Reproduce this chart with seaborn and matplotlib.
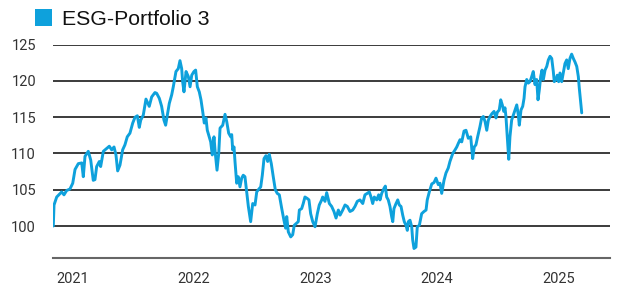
import numpy as np
import pandas as pd
import matplotlib
matplotlib.use("Agg")
import matplotlib.pyplot as plt
from matplotlib.patches import Rectangle
import seaborn as sns

# ─────────────────────────────────────────────
# DATA  (decimal year, index level)
# ─────────────────────────────────────────────
SERIES_NAME = "ESG-Portfolio 3"

years = [
    2020.842, 2020.848, 2020.870, 2020.911, 2020.930, 2020.952, 2020.979, 2021.002,
    2021.021, 2021.048, 2021.076, 2021.089, 2021.103, 2021.130, 2021.150, 2021.171,
    2021.185, 2021.199, 2021.221, 2021.232, 2021.254, 2021.282, 2021.303, 2021.323,
    2021.342, 2021.358, 2021.372, 2021.391, 2021.413, 2021.432, 2021.451, 2021.473,
    2021.496, 2021.515, 2021.534, 2021.550, 2021.562, 2021.583, 2021.605, 2021.632,
    2021.652, 2021.679, 2021.693, 2021.715, 2021.734, 2021.753, 2021.767, 2021.781,
    2021.797, 2021.817, 2021.830, 2021.852, 2021.871, 2021.885, 2021.899, 2021.907,
    2021.918, 2021.935, 2021.954, 2021.968, 2021.982, 2022.000, 2022.014, 2022.028,
    2022.044, 2022.058, 2022.072, 2022.085, 2022.099, 2022.110, 2022.126, 2022.138,
    2022.151, 2022.165, 2022.176, 2022.190, 2022.204, 2022.215, 2022.237, 2022.256,
    2022.270, 2022.286, 2022.303, 2022.311, 2022.319, 2022.330, 2022.338, 2022.352,
    2022.365, 2022.379, 2022.393, 2022.406, 2022.420, 2022.434, 2022.448, 2022.467,
    2022.484, 2022.503, 2022.517, 2022.530, 2022.550, 2022.563, 2022.577, 2022.593,
    2022.607, 2022.620, 2022.637, 2022.653, 2022.670, 2022.686, 2022.703, 2022.723,
    2022.741, 2022.755, 2022.764, 2022.777, 2022.797, 2022.813, 2022.826, 2022.846,
    2022.859, 2022.868, 2022.887, 2022.900, 2022.914, 2022.933, 2022.947, 2022.961,
    2022.978, 2022.997, 2023.016, 2023.032, 2023.052, 2023.060, 2023.079, 2023.093,
    2023.115, 2023.134, 2023.153, 2023.170, 2023.189, 2023.203, 2023.225, 2023.244,
    2023.263, 2023.285, 2023.307, 2023.326, 2023.345, 2023.367, 2023.390, 2023.408,
    2023.427, 2023.444, 2023.458, 2023.472, 2023.485, 2023.505, 2023.521, 2023.532,
    2023.546, 2023.565, 2023.576, 2023.587, 2023.600, 2023.614, 2023.628, 2023.637,
    2023.647, 2023.664, 2023.678, 2023.691, 2023.705, 2023.719, 2023.732, 2023.746,
    2023.757, 2023.765, 2023.779, 2023.793, 2023.801, 2023.812, 2023.828, 2023.839,
    2023.856, 2023.875, 2023.894, 2023.911, 2023.921, 2023.938, 2023.958, 2023.977,
    2023.993, 2024.012, 2024.026, 2024.040, 2024.059, 2024.075, 2024.094, 2024.108,
    2024.131, 2024.150, 2024.164, 2024.177, 2024.191, 2024.205, 2024.224, 2024.240,
    2024.259, 2024.279, 2024.295, 2024.308, 2024.322, 2024.336, 2024.355, 2024.369,
    2024.383, 2024.397, 2024.411, 2024.424, 2024.438, 2024.454, 2024.471, 2024.487,
    2024.498, 2024.514, 2024.526, 2024.539, 2024.551, 2024.561, 2024.569, 2024.580,
    2024.592, 2024.602, 2024.616, 2024.630, 2024.644, 2024.658, 2024.671, 2024.679,
    2024.693, 2024.707, 2024.718, 2024.726, 2024.740, 2024.753, 2024.767, 2024.781,
    2024.794, 2024.808, 2024.822, 2024.833, 2024.844, 2024.855, 2024.866, 2024.877,
    2024.891, 2024.905, 2024.918, 2024.932, 2024.946, 2024.959, 2024.967, 2024.981,
    2024.992, 2025.003, 2025.014, 2025.028, 2025.041, 2025.055, 2025.069, 2025.082,
    2025.096, 2025.110, 2025.124, 2025.138, 2025.152, 2025.165, 2025.173, 2025.185,
    2025.193,
]

values = [
    100.0, 102.9, 104.0, 104.7, 104.3, 104.9, 105.1, 105.9,
    107.8, 108.6, 108.7, 106.8, 109.6, 110.3, 109.1, 106.3,
    106.4, 108.2, 108.9, 108.2, 110.3, 110.7, 111.0, 110.5,
    110.9, 109.8, 107.6, 108.4, 110.5, 111.2, 112.3, 112.8,
    114.2, 115.0, 115.2, 113.6, 114.6, 115.3, 117.5, 116.5,
    117.8, 118.4, 118.3, 117.6, 116.5, 114.6, 113.9, 115.3,
    116.9, 118.1, 119.2, 121.3, 121.7, 122.8, 121.7, 119.9,
    118.5, 121.3, 120.6, 119.2, 120.8, 121.3, 121.5, 119.2,
    118.5, 117.4, 115.8, 114.2, 114.9, 113.2, 112.3, 111.6,
    109.8, 112.3, 110.0, 107.7, 110.0, 113.5, 113.9, 115.4,
    114.4, 112.8, 112.3, 112.6, 110.5, 110.9, 108.9, 105.9,
    106.8, 105.4, 106.6, 107.0, 106.8, 104.7, 102.7, 100.6,
    103.1, 102.9, 104.7, 105.0, 105.4, 107.0, 109.3, 109.7,
    108.9, 109.9, 108.6, 106.8, 105.0, 104.5, 104.3, 102.4,
    100.8, 99.7, 101.3, 99.2, 98.5, 98.8, 100.1, 100.4,
    100.6, 102.2, 102.4, 103.1, 104.0, 103.8, 103.6, 101.7,
    100.6, 99.9, 101.7, 102.9, 103.6, 104.0, 103.4, 104.6,
    103.1, 102.7, 102.0, 101.1, 102.2, 101.5, 102.2, 102.9,
    102.7, 102.0, 102.2, 102.7, 103.4, 103.6, 103.1, 104.3,
    104.5, 104.7, 104.0, 103.1, 104.0, 103.6, 104.3, 103.6,
    104.5, 105.2, 105.5, 104.0, 103.6, 102.7, 101.3, 100.6,
    102.4, 103.1, 103.6, 102.9, 102.7, 101.5, 100.6, 100.1,
    99.4, 100.6, 100.8, 99.9, 98.1, 96.9, 97.1, 99.9,
    100.1, 101.7, 102.0, 102.2, 103.6, 104.7, 105.8, 106.0,
    106.6, 105.7, 105.9, 104.5, 106.3, 107.3, 108.0, 108.9,
    110.0, 110.5, 110.9, 111.4, 111.9, 111.6, 113.1, 113.2,
    112.1, 112.3, 109.3, 110.9, 111.2, 112.3, 113.7, 114.9,
    115.1, 114.4, 113.2, 114.6, 115.1, 115.5, 115.8, 114.9,
    115.7, 116.0, 117.4, 116.7, 115.8, 116.3, 115.1, 112.3,
    109.2, 112.3, 114.6, 115.3, 116.0, 116.7, 115.3, 113.9,
    116.0, 116.5, 117.6, 119.2, 120.2, 119.7, 119.9, 120.6,
    121.3, 119.5, 120.2, 117.4, 118.8, 120.6, 121.5, 120.2,
    121.5, 122.0, 122.9, 123.4, 123.1, 121.3, 119.9, 120.2,
    120.8, 119.9, 121.1, 119.9, 121.1, 122.4, 122.9, 121.7,
    123.1, 123.7, 123.1, 122.6, 122.0, 120.6, 119.0, 116.9,
    115.6,
]

tick_years = [2021, 2022, 2023, 2024, 2025]
y_ticks = [100, 105, 110, 115, 120, 125]

LINE_COLOR = "#0ea1dc"
TEXT_COLOR = "#333333"

df = pd.DataFrame({"year": years, "value": values})

# ─────────────────────────────────────────────
# PLOT
# ─────────────────────────────────────────────
sns.set_theme(style="white")
plt.rcParams["font.family"] = ["Roboto", "DejaVu Sans"]

fig = plt.figure(figsize=(6.17, 2.91), dpi=100)
ax = fig.add_axes([0.0854, 0.1124, 0.9033, 0.734])

for yv in y_ticks:
    ax.axhline(yv, color="#1a1a1a", linewidth=1.2, zorder=1)

sns.lineplot(data=df, x="year", y="value", ax=ax, color=LINE_COLOR,
             linewidth=2.1, sort=False, estimator=None, zorder=3)

ax.set_xlim(2020.837, 2025.426)
ax.set_ylim(95.55, 125)
ax.set_xticks(tick_years)
ax.set_xticklabels([str(t) for t in tick_years])
ax.set_yticks(y_ticks)
ax.set_yticklabels([str(t) for t in y_ticks])
ax.tick_params(axis="both", length=0, labelsize=10.5, colors=TEXT_COLOR)
ax.tick_params(axis="x", pad=10)
ax.tick_params(axis="y", pad=12)
ax.set_xlabel("")
ax.set_ylabel("")

for side in ["top", "left", "right"]:
    ax.spines[side].set_visible(False)
ax.spines["bottom"].set_color("#666666")
ax.spines["bottom"].set_linewidth(1.5)

# legend: coloured square + series name, top left
fig.patches.append(Rectangle((35 / 617, 1 - 26 / 291), 17 / 617, 17 / 291,
                             transform=fig.transFigure, facecolor=LINE_COLOR,
                             edgecolor="none"))
fig.text(62 / 617, 1 - 25 / 291, SERIES_NAME, fontsize=15.3,
         family=["Liberation Sans", "DejaVu Sans"], color="#111111",
         ha="left", va="baseline")

fig.savefig("out.png", dpi=100)
